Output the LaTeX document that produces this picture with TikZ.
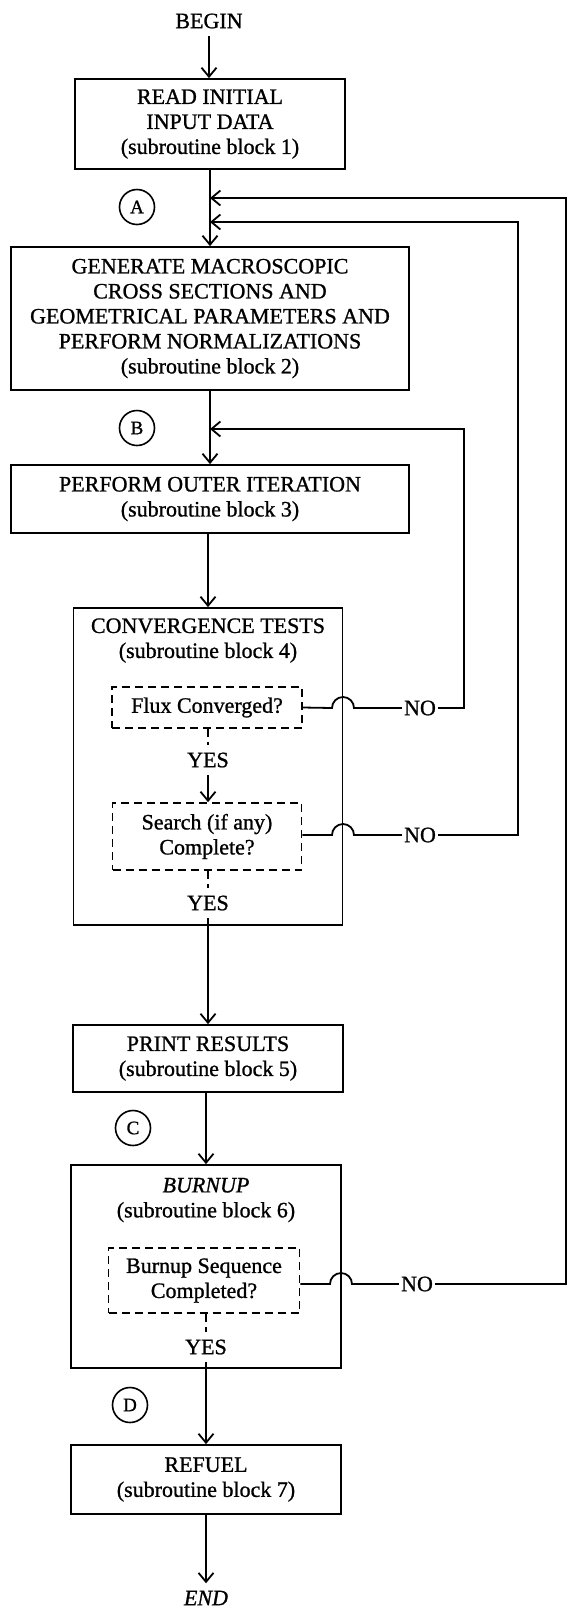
\documentclass[tikz,border=0pt]{standalone}
\usepackage{fontspec}
\setmainfont{Liberation Serif}[FakeBold=1]
\usetikzlibrary{arrows.meta}
\tikzset{
  block/.style={draw,line width=1.8pt,align=center,inner sep=0pt},
  dashbox/.style={block,dash pattern=on 8pt off 5pt},
  mark circ/.style={draw,circle,line width=1.6pt,minimum size=35pt,inner sep=0pt,font=\fontsize{19}{20}\selectfont},
  flow/.style={line width=1.8pt,-{Straight Barb[length=9pt,width=15pt,line width=1.8pt]}},
  conn/.style={line width=1.8pt},
}
\begin{document}
\begin{tikzpicture}[x=1pt,y=-1pt]
  \fontsize{22}{25}\selectfont
  \useasboundingbox (0,0) rectangle (568,1607);
  % main column
  \node (begin) at (209,21) {BEGIN};
  \node[block,minimum width=270pt,minimum height=90pt] (read) at (210,124)
    {READ INITIAL\\INPUT DATA\\(subroutine block 1)};
  \node[block,minimum width=398pt,minimum height=143pt] (gen) at (210,318.5)
    {GENERATE MACROSCOPIC\\CROSS SECTIONS AND\\GEOMETRICAL PARAMETERS AND\\PERFORM NORMALIZATIONS\\(subroutine block 2)};
  \node[block,minimum width=398pt,minimum height=68pt] (outer) at (210,499)
    {PERFORM OUTER ITERATION\\(subroutine block 3)};
  \node[block,minimum width=269pt,minimum height=317pt] (conv) at (208,766.5) {};
  \node[align=center] (convt) at (208,640.5) {CONVERGENCE TESTS\\(subroutine block 4)};
  \node[dashbox,minimum width=190pt,minimum height=41pt] (flux) at (207,707.5) {Flux Converged?};
  \node (yes1) at (208,760) {YES};
  \node[dashbox,minimum width=189pt,minimum height=67pt] (search) at (207,836.5)
    {Search (if any)\\Complete?};
  \node (yes2) at (208,903) {YES};
  \node[block,minimum width=270pt,minimum height=67pt] (print) at (208,1058.5)
    {PRINT RESULTS\\(subroutine block 5)};
  \node[block,minimum width=270pt,minimum height=203pt] (burn) at (206,1266.5) {};
  \node[align=center] (burnt) at (206,1200) {\itshape BURNUP\\(subroutine block 6)};
  \node[dashbox,minimum width=191pt,minimum height=65pt] (seq) at (204,1280.5)
    {Burnup Sequence\\Completed?};
  \node (yes3) at (206,1347) {YES};
  \node[block,minimum width=270pt,minimum height=69pt] (refuel) at (206,1479.5)
    {REFUEL\\(subroutine block 7)};
  \node (end) at (206,1598) {\itshape END};
  % entry marks
  \node[mark circ] (mA) at (137,207) {A};
  \node[mark circ] (mB) at (137,428) {B};
  \node[mark circ] (mC) at (133,1128) {C};
  \node[mark circ] (mD) at (130,1405) {D};
  % answers
  \node[inner sep=2pt] (no1) at (420,708) {NO};
  \node[inner sep=2pt] (no2) at (420,835) {NO};
  \node[inner sep=2pt] (no3) at (417,1284) {NO};
  \coordinate (inA) at (210,198);
  \coordinate (inS) at (210,222);
  \coordinate (inB) at (210,429);
  \coordinate (rA) at (566,198);
  \coordinate (rS) at (518,222);
  \coordinate (rB) at (464,429);
  % forward flow
  \draw[flow] (begin.south) -- (read.north -| begin);
  \draw[flow] (read.south) -- (gen.north);
  \draw[flow] (gen.south) -- (outer.north);
  \draw[flow] (outer.south -| conv) -- (conv.north);
  \draw[conn,dash pattern=on 8pt off 5pt] (flux.south -| yes1) -- (yes1.north);
  \draw[flow] (yes1.south) -- (search.north -| yes1);
  \draw[conn,dash pattern=on 8pt off 5pt] (search.south -| yes2) -- (yes2.north);
  \draw[flow] (yes2.south) -- (print.north);
  \draw[flow] (print.south -| burn) -- (burn.north);
  \draw[conn,dash pattern=on 8pt off 5pt] (seq.south -| yes3) -- (yes3.north);
  \draw[flow] (yes3.south) -- (refuel.north);
  \draw[flow] (refuel.south) -- (end.north);
  % loops back, jumping over the block edge
  \draw[conn] (flux.east) -- (332,708) arc[start angle=180,end angle=0,radius=11pt] -- (no1.west);
  \draw[flow] (no1.east) -| (rB) -- (inB);
  \draw[conn] (search.east |- no2) -- (332,835) arc[start angle=180,end angle=0,radius=11pt] -- (no2.west);
  \draw[flow] (no2.east) -| (rS) -- (inS);
  \draw[conn] (seq.east |- no3) -- (330,1284) arc[start angle=180,end angle=0,radius=11pt] -- (no3.west);
  \draw[flow] (no3.east) -| (rA) -- (inA);
\end{tikzpicture}
\end{document}
